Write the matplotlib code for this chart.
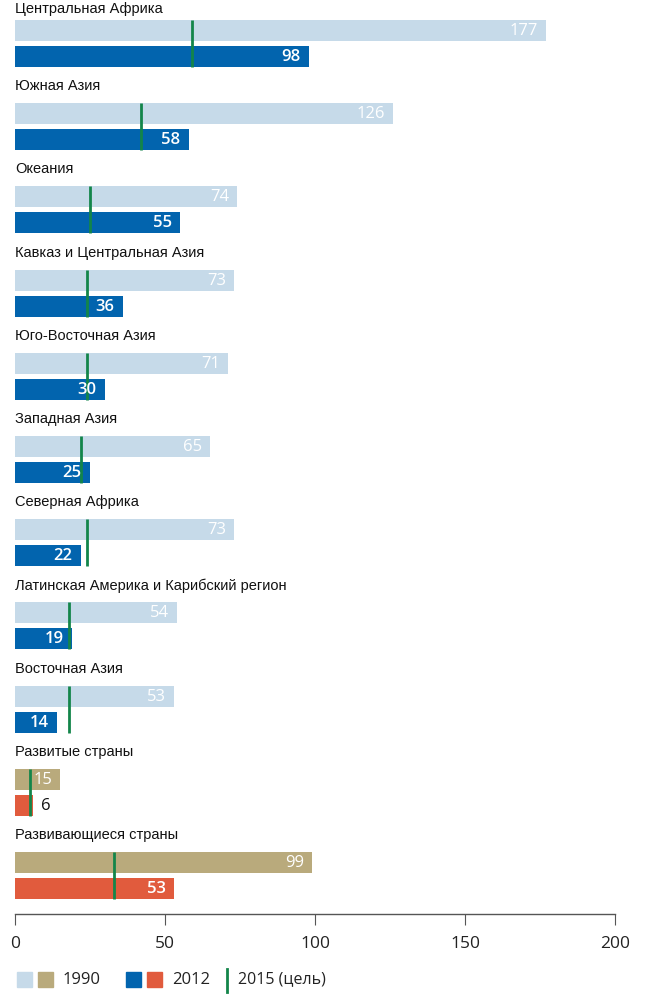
import matplotlib.pyplot as plt
from matplotlib.patches import Rectangle
from matplotlib.lines import Line2D

regions = ["Центральная Африка", "Южная Азия", "Океания",
           "Кавказ и Центральная Азия", "Юго-Восточная Азия", "Западная Азия",
           "Северная Африка", "Латинская Америка и Карибский регион",
           "Восточная Азия", "Развитые страны", "Развивающиеся страны"]
v1990 = [177, 126, 74, 73, 71, 65, 73, 54, 53, 15, 99]
v2012 = [98, 58, 55, 36, 30, 25, 22, 19, 14, 6, 53]
target = [59, 42, 25, 24, 24, 22, 24, 18, 18, 5, 33]
# last two groups use the aggregate colours
aggregate = [False] * 9 + [True, True]

C90 = "#c6dae9"
C12 = "#0264ae"
C90_AGG = "#b9aa7c"
C12_AGG = "#e15b3d"
GREEN = "#13854a"

W, H = 652, 998
fig = plt.figure(figsize=(W / 100, H / 100), dpi=100)
# axes in pixel-like units: x 0..200 -> px 15..615, y 0..914 top-down
ax = fig.add_axes([15 / W, (H - 914) / H, 600 / W, 914 / H])
ax.set_xlim(0, 200)
ax.set_ylim(914, 0)

pitch = 83.2
bh = 21
num_font = "Open Sans"
lab_font = "Liberation Sans"

for g, name in enumerate(regions):
    top = g * pitch + 20
    y90 = top + bh / 2
    y12 = top + 26 + bh / 2
    c1 = C90_AGG if aggregate[g] else C90
    c2 = C12_AGG if aggregate[g] else C12
    ax.barh(y90, v1990[g], height=bh, color=c1, left=0)
    ax.barh(y12, v2012[g], height=bh, color=c2, left=0)
    ax.text(0, max(top - 17, 9), name, ha="left", va="center",
            fontsize=10.5, family=lab_font, color="#111111")
    ax.text(v1990[g] - 2.6, y90 + 0.5, str(v1990[g]), ha="right", va="center",
            fontsize=12, family=num_font, color="white")
    if v2012[g] >= 10:
        ax.text(v2012[g] - 2.8, y12 + 0.5, str(v2012[g]), ha="right", va="center",
                fontsize=12, family=num_font, color="white", fontweight="semibold")
    else:
        ax.text(v2012[g] + 2.5, y12 + 0.5, str(v2012[g]), ha="left", va="center",
                fontsize=12, family=num_font, color="#111111")
    ax.plot([target[g], target[g]], [top, top + 26 + bh], color=GREEN, lw=2,
            solid_capstyle="butt")

for s in ["top", "left", "right"]:
    ax.spines[s].set_visible(False)
ax.spines["bottom"].set_color("#555555")
ax.spines["bottom"].set_linewidth(1)
ax.set_yticks([])
ax.set_xticks([0, 50, 100, 150, 200])
ax.tick_params(axis="x", length=8, width=0.8, color="#555555", pad=8,
               labelsize=12.5, labelcolor="#222222")
for t in ax.get_xticklabels():
    t.set_family(num_font)


# legend drawn in pixel coordinates of the figure
def px(x, y):
    return x / W, 1 - y / H


def square(x, y, c):
    fig.add_artist(Rectangle(px(x, y + 15), 15 / W, 15 / H, color=c,
                             transform=fig.transFigure))


square(17, 972, C90)
square(38, 972, C90_AGG)
fig.text(*px(63, 979.5), "1990", fontsize=12, family=num_font, va="center",
         color="#222222")
square(126, 972, C12)
square(147, 972, C12_AGG)
fig.text(*px(172, 979.5), "2012", fontsize=12, family=num_font, va="center",
         color="#222222")
x0, y0 = px(227, 969)
x1, y1 = px(227, 992)
fig.add_artist(Line2D([x0, x1], [y0, y1], color=GREEN, lw=2,
                      transform=fig.transFigure))
fig.text(*px(238, 979.5), "2015 (цель)", fontsize=11.5, family=num_font,
         va="center", color="#222222")

fig.savefig("out.png", dpi=100)
